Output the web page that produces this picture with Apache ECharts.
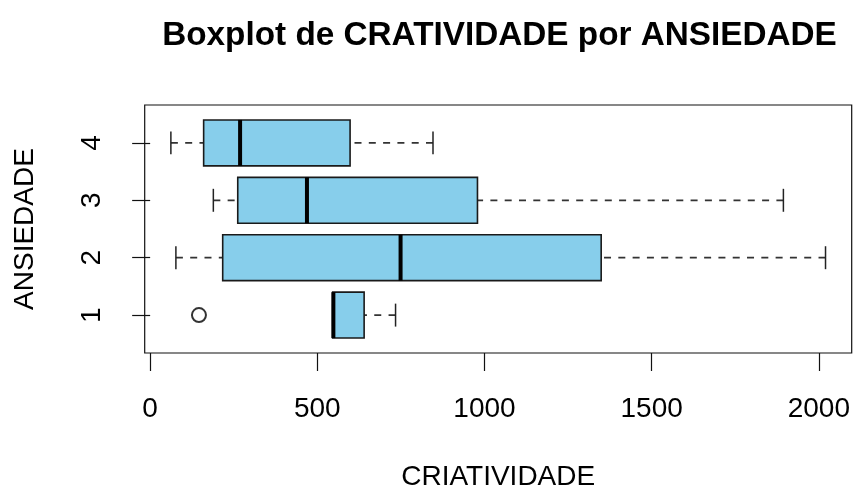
<!DOCTYPE html>
<html>
<head>
<meta charset="utf-8">
<title>Boxplot de CRATIVIDADE por ANSIEDADE</title>
<script src="https://cdn.jsdelivr.net/npm/echarts@6/dist/echarts.min.js"></script>
<style>
	html, body { margin: 0; padding: 0; background: #fff; }
	#chart { width: 853px; height: 489px; }
</style>
</head>
<body>
<div id="chart"></div>
<script>
	// ANSIEDADE (niveis) e resumo de cinco numeros de CRIATIVIDADE
	var niveis = [1, 2, 3, 4];
	var minimos = [546, 77, 189, 62];
	var q1s = [546, 217, 262, 160];
	var medianas = [548, 749, 469, 269];
	var q3s = [640, 1349, 979, 598];
	var maximos = [734, 2020, 1894, 846];

	// pontos fora dos bigodes
	var outlierValores = [146];
	var outlierNiveis = [1];

	// rotulos dos eixos
	var xTicks = [0, 500, 1000, 1500, 2000];
	var yTicks = [1, 2, 3, 4];

	var fonte = "'Liberation Sans', Arial, sans-serif";

	var dadosBox = niveis.map(function(n, i) {
		return [n, minimos[i], q1s[i], medianas[i], q3s[i], maximos[i]];
	});
	var dadosOut = outlierValores.map(function(v, i) {
		return [v, outlierNiveis[i]];
	});

	// desenha uma caixa no estilo do R (bigode tracejado, mediana grossa)
	function renderBox(params, api) {
		var y = api.value(0);
		var pLo = api.coord([api.value(1), y]);
		var pQ1 = api.coord([api.value(2), y]);
		var pMed = api.coord([api.value(3), y]);
		var pQ3 = api.coord([api.value(4), y]);
		var pHi = api.coord([api.value(5), y]);
		var h = api.size([0, 0.8])[1];
		var cap = h / 2;
		var cy = pMed[1];
		var traco = { stroke: '#333', lineWidth: 1.7, lineDash: [7, 7.3] };
		var linha = { stroke: '#222', lineWidth: 1.5 };
		return {
			type: 'group',
			children: [
				{ type: 'line', shape: { x1: pLo[0], y1: cy, x2: pQ1[0], y2: cy }, style: traco },
				{ type: 'line', shape: { x1: pHi[0], y1: cy, x2: pQ3[0], y2: cy }, style: traco },
				{ type: 'line', shape: { x1: pLo[0], y1: cy - cap / 2, x2: pLo[0], y2: cy + cap / 2 }, style: linha },
				{ type: 'line', shape: { x1: pHi[0], y1: cy - cap / 2, x2: pHi[0], y2: cy + cap / 2 }, style: linha },
				{
					type: 'rect',
					shape: { x: pQ1[0], y: cy - h / 2, width: pQ3[0] - pQ1[0], height: h },
					style: { fill: '#87CEEB', stroke: '#1a1a1a', lineWidth: 1.6 }
				},
				{ type: 'line', shape: { x1: pMed[0], y1: cy - h / 2, x2: pMed[0], y2: cy + h / 2 }, style: { stroke: '#000', lineWidth: 4 } }
			]
		};
	}

	var chart = echarts.init(document.getElementById('chart'), null, { renderer: 'canvas' });

	var option = {
		animation: false,
		backgroundColor: '#fff',
		title: {
			text: 'Boxplot de CRATIVIDADE por ANSIEDADE',
			left: 494.5,
			top: 14,
			textAlign: 'center',
			textStyle: { fontFamily: fonte, fontSize: 33.3, fontWeight: 'bold', color: '#000' }
		},
		grid: {
			left: 144.7,
			top: 105,
			right: 1.3,
			bottom: 136,
			outerBoundsMode: 'none',
			containLabel: false,
			show: true,
			borderColor: '#111',
			borderWidth: 1.2,
			backgroundColor: 'transparent'
		},
		xAxis: {
			type: 'value',
			min: -16.3,
			max: 2098.3,
			name: 'CRIATIVIDADE',
			nameLocation: 'middle',
			nameGap: 110,
			nameTextStyle: { fontFamily: fonte, fontSize: 28, color: '#000' },
			axisLine: { show: false },
			axisTick: { show: true, length: 18, customValues: xTicks, lineStyle: { color: '#111', width: 1.2 } },
			axisLabel: {
				customValues: xTicks,
				margin: 42,
				fontFamily: fonte,
				fontSize: 28,
				color: '#000',
				formatter: function(v) { return String(v); }
			},
			splitLine: { show: false }
		},
		yAxis: {
			type: 'value',
			min: 0.34,
			max: 4.66,
			name: 'ANSIEDADE',
			nameLocation: 'middle',
			nameRotate: 90,
			nameGap: 105,
			nameTextStyle: { fontFamily: fonte, fontSize: 28, color: '#000' },
			axisLine: { show: false },
			axisTick: { show: true, length: 18, customValues: yTicks, lineStyle: { color: '#111', width: 1.2 } },
			axisLabel: {
				customValues: yTicks,
				rotate: 90,
				margin: 38,
				fontFamily: fonte,
				fontSize: 28,
				color: '#000',
				formatter: function(v) { return String(v); }
			},
			splitLine: { show: false }
		},
		series: [
			{
				type: 'custom',
				renderItem: renderBox,
				encode: { x: [1, 2, 3, 4, 5], y: 0 },
				data: dadosBox
			},
			{
				type: 'scatter',
				symbol: 'emptyCircle',
				symbolSize: 14,
				itemStyle: { color: '#000', borderColor: '#111', borderWidth: 1.5 },
				data: dadosOut
			}
		]
	};

	chart.setOption(option);
</script>
</body>
</html>
